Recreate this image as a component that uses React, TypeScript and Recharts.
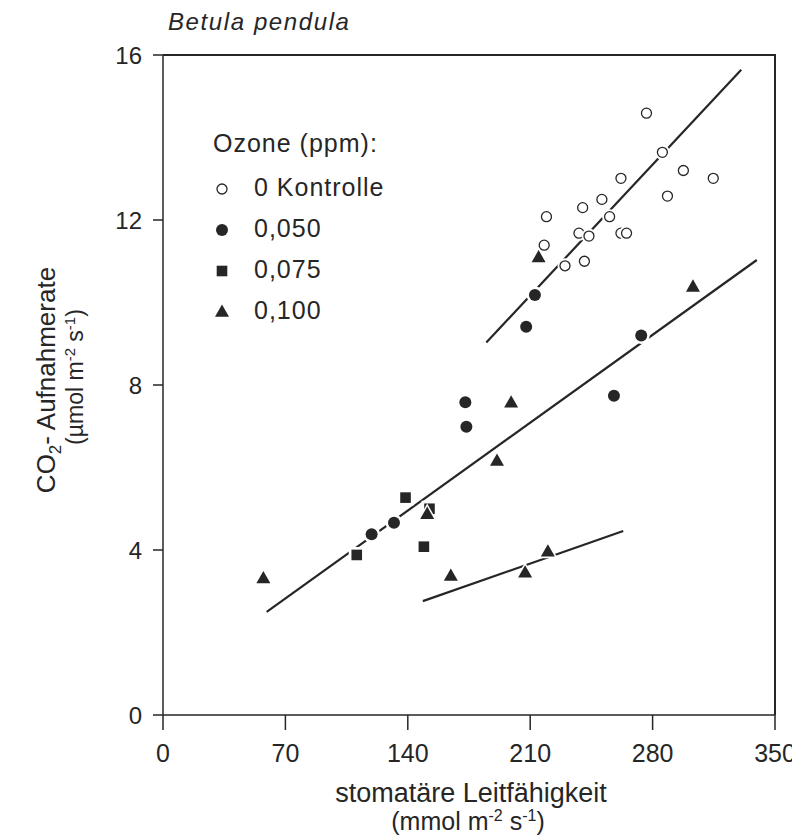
import { ScatterChart, Scatter, XAxis, YAxis } from "recharts"

// axis ticks
const xTicks = [0, 70, 140, 210, 280, 350]
const yTicks = [0, 4, 8, 12, 16]

// Ozone 0 (Kontrolle)
const kontrolle = [
  { x: 276.5, y: 14.59 },
  { x: 285.6, y: 13.64 },
  { x: 297.6, y: 13.2 },
  { x: 314.7, y: 13.01 },
  { x: 288.5, y: 12.58 },
  { x: 261.9, y: 13.01 },
  { x: 251.0, y: 12.5 },
  { x: 240.0, y: 12.3 },
  { x: 255.4, y: 12.08 },
  { x: 219.3, y: 12.08 },
  { x: 237.9, y: 11.68 },
  { x: 243.6, y: 11.61 },
  { x: 261.9, y: 11.68 },
  { x: 265.1, y: 11.68 },
  { x: 218.0, y: 11.39 },
  { x: 229.9, y: 10.89 },
  { x: 241.0, y: 11.0 },
]

// Ozone 0,050
const ozon050 = [
  { x: 212.7, y: 10.18 },
  { x: 207.7, y: 9.41 },
  { x: 273.5, y: 9.2 },
  { x: 257.9, y: 7.74 },
  { x: 172.9, y: 7.58 },
  { x: 173.5, y: 6.99 },
  { x: 119.3, y: 4.38 },
  { x: 132.1, y: 4.66 },
]

// Ozone 0,075
const ozon075 = [
  { x: 110.8, y: 3.88 },
  { x: 138.7, y: 5.27 },
  { x: 152.4, y: 5.0 },
  { x: 149.2, y: 4.08 },
]

// Ozone 0,100
const ozon100 = [
  { x: 57.4, y: 3.31 },
  { x: 151.1, y: 4.87 },
  { x: 164.6, y: 3.37 },
  { x: 191.0, y: 6.16 },
  { x: 199.1, y: 7.57 },
  { x: 214.8, y: 11.09 },
  { x: 207.1, y: 3.45 },
  { x: 220.1, y: 3.96 },
  { x: 303.1, y: 10.38 },
]

// regression lines (end points)
const fitKontrolle = [
  { x: 184.9, y: 9.03 },
  { x: 330.7, y: 15.64 },
]
const fitMitte = [
  { x: 59.3, y: 2.5 },
  { x: 339.6, y: 11.03 },
]
const fitUnten = [
  { x: 148.6, y: 2.76 },
  { x: 263.2, y: 4.46 },
]

const legendItems = ["0 Kontrolle", "0,050", "0,075", "0,100"]

const ink = "#262626"
const font = "'Liberation Sans', Arial, Helvetica, sans-serif"

// chart box
const W = 792
const H = 832
const margin = { top: 47, right: 25, bottom: 75, left: 85 }
const yAxisWidth = 70
const xAxisHeight = 50
const plotLeft = margin.left + yAxisWidth
const plotTop = margin.top
const plotRight = W - margin.right
const plotBottom = H - margin.bottom - xAxisHeight

function OpenCircle(p: any) {
  const { cx, cy } = p
  return (
    <g>
      <circle cx={cx} cy={cy} r={7.5} fill="#fff" />
      <circle cx={cx} cy={cy} r={5} fill="#fff" stroke={ink} strokeWidth={1.3} />
    </g>
  )
}

function FilledCircle(p: any) {
  const { cx, cy } = p
  return (
    <g>
      <circle cx={cx} cy={cy} r={8.5} fill="#fff" />
      <circle cx={cx} cy={cy} r={6} fill={ink} />
    </g>
  )
}

function FilledSquare(p: any) {
  const { cx, cy } = p
  return (
    <g>
      <rect x={cx - 8} y={cy - 8} width={16} height={16} fill="#fff" />
      <rect x={cx - 5.3} y={cy - 5.3} width={10.6} height={10.6} fill={ink} />
    </g>
  )
}

function tri(cx: number, cy: number, s: number) {
  return `${cx},${cy - 7.5 * s} ${cx - 7 * s},${cy + 4.8 * s} ${cx + 7 * s},${cy + 4.8 * s}`
}

function FilledTriangle(p: any) {
  const { cx, cy } = p
  return (
    <g>
      <polygon points={tri(cx, cy, 1.4)} fill="#fff" />
      <polygon points={tri(cx, cy, 1)} fill={ink} />
    </g>
  )
}

const legendShapes = [OpenCircle, FilledCircle, FilledSquare, FilledTriangle]

const noDot = () => <g />

export default function App() {
  const lineStyle = { stroke: ink, strokeWidth: 2.2 }
  return (
    <div style={{ position: "relative", width: W, height: H, fontFamily: font }}>
      <ScatterChart width={W} height={H} margin={margin}>
        <XAxis
          type="number"
          dataKey="x"
          domain={[0, 350]}
          ticks={xTicks}
          height={xAxisHeight}
          tickSize={15}
          tickMargin={14}
          stroke={ink}
          strokeWidth={1.5}
          tick={{ fill: ink, fontSize: 25, fontFamily: font }}
        />
        <YAxis
          type="number"
          dataKey="y"
          domain={[0, 16]}
          ticks={yTicks}
          width={yAxisWidth}
          tickSize={10}
          tickMargin={11}
          stroke={ink}
          strokeWidth={1.5}
          tick={{ fill: ink, fontSize: 24, fontFamily: font }}
        />
        <Scatter data={fitKontrolle} line={lineStyle} shape={noDot} legendType="none" isAnimationActive={false} />
        <Scatter data={fitMitte} line={lineStyle} shape={noDot} legendType="none" isAnimationActive={false} />
        <Scatter data={fitUnten} line={lineStyle} shape={noDot} legendType="none" isAnimationActive={false} />
        <Scatter name="0 Kontrolle" data={kontrolle} shape={OpenCircle} isAnimationActive={false} />
        <Scatter name="0,050" data={ozon050} shape={FilledCircle} isAnimationActive={false} />
        <Scatter name="0,075" data={ozon075} shape={FilledSquare} isAnimationActive={false} />
        <Scatter name="0,100" data={ozon100} shape={FilledTriangle} isAnimationActive={false} />
      </ScatterChart>
      <svg
        width={W}
        height={H}
        style={{ position: "absolute", left: 0, top: 0, pointerEvents: "none" }}
        fontFamily={font}
        fill={ink}
      >
        {/* top and right edges of the plot frame */}
        <polyline
          points={`${plotLeft},${plotTop} ${plotRight},${plotTop} ${plotRight},${plotBottom}`}
          fill="none"
          stroke={ink}
          strokeWidth={2}
        />

        <text x={160} y={22} fontSize={24} fontStyle="italic" letterSpacing={1.6}>
          Betula pendula
        </text>

        <text x={205} y={144} fontSize={25} letterSpacing={1}>
          Ozone (ppm):
        </text>
        {legendItems.map((label, i) => {
          const cy = 181 + i * 41
          const Shape = legendShapes[i]
          return (
            <g key={label}>
              <Shape cx={214} cy={cy} />
              <text x={246} y={cy + 7} fontSize={25} letterSpacing={1}>
                {label}
              </text>
            </g>
          )
        })}

        <text transform="translate(47,372) rotate(-90)" textAnchor="middle" fontSize={26}>
          CO
          <tspan fontSize={17} dy={6}>2</tspan>
          <tspan dy={-6}>- Aufnahmerate</tspan>
        </text>
        <text transform="translate(75,369) rotate(-90)" textAnchor="middle" fontSize={23}>
          (µmol m
          <tspan fontSize={15} dy={-8}>-2</tspan>
          <tspan dy={8}> s</tspan>
          <tspan fontSize={15} dy={-8}>-1</tspan>
          <tspan dy={8}>)</tspan>
        </text>

        <text x={463} y={794} textAnchor="middle" fontSize={27}>
          stomatäre Leitfähigkeit
        </text>
        <text x={460} y={822} textAnchor="middle" fontSize={25}>
          (mmol m
          <tspan fontSize={16} dy={-9}>-2</tspan>
          <tspan dy={9}> s</tspan>
          <tspan fontSize={16} dy={-9}>-1</tspan>
          <tspan dy={9}>)</tspan>
        </text>
      </svg>
    </div>
  )
}
